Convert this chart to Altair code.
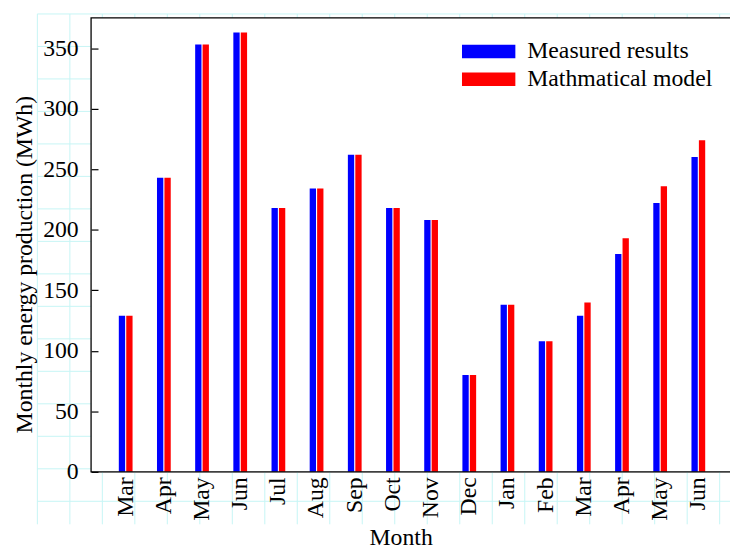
import altair as alt
import pandas as pd

months = ["Mar", "Apr", "May", "Jun", "Jul", "Aug", "Sep", "Oct",
          "Nov", "Dec", "Jan", "Feb", "Mar", "Apr", "May", "Jun"]
measured = [129, 243, 353, 363, 218, 234, 262, 218, 208, 80, 138, 108, 129, 180, 222, 260]
model = [129, 243, 353, 363, 218, 234, 262, 218, 208, 80, 138, 108, 140, 193, 236, 274]
series_names = ["Measured results", "Mathmatical model"]
series_colors = ["#0000ff", "#ff0000"]
y_ticks = [0, 50, 100, 150, 200, 250, 300, 350]

W, H = 646, 459
FONT = "Liberation Serif"
FS = 24

rows = []
for i, m in enumerate(months):
    rows.append({"idx": i, "month": m, "series": series_names[0], "value": measured[i]})
    rows.append({"idx": i, "month": m, "series": series_names[1], "value": model[i]})
df = pd.DataFrame(rows)

label_expr = "[" + ",".join("'" + m + "'" for m in months) + "][datum.value]"

# faint cyan background paper grid (decorative, visible only outside the plot area)
grid_step = 32.85
vx = pd.DataFrame({"px": [-54.3 + grid_step * k for k in range(22)]})
hy = pd.DataFrame({"py": [-4 + grid_step * k for k in range(16)]})
GRID_C = "#c6f5f5"

grid_v = alt.Chart(vx).mark_rule(color=GRID_C, strokeWidth=1).encode(
    x=alt.X("px:Q", scale=None, axis=None),
    y=alt.value(-4), y2=alt.value(512),
)
grid_h = alt.Chart(hy).mark_rule(color=GRID_C, strokeWidth=1).encode(
    y=alt.Y("py:Q", scale=None, axis=None),
    x=alt.value(-54.3), x2=alt.value(W + 10),
)

one = pd.DataFrame({"a": [0]})
white_bg = alt.Chart(one).mark_rect(color="white").encode(
    x=alt.value(0), x2=alt.value(W + 10), y=alt.value(0), y2=alt.value(H),
)
frame = alt.Chart(one).mark_rect(filled=False, stroke="black", strokeWidth=1.3).encode(
    x=alt.value(0), x2=alt.value(W + 10), y=alt.value(0), y2=alt.value(H),
)

bars = alt.Chart(df).mark_bar().encode(
    x=alt.X("idx:O",
            scale=alt.Scale(paddingInner=0.64, paddingOuter=0.688, align=0.528),
            axis=alt.Axis(labelExpr=label_expr, labelAngle=270, labelFont=FONT,
                          labelFontSize=FS, labelColor="black", labelPadding=5,
                          ticks=False, domain=False, grid=False, zindex=1,
                          title="Month", titleFont=FONT, titleFontSize=FS,
                          titleFontWeight="normal", titleColor="black",
                          titlePadding=5, titleX=313)),
    xOffset=alt.XOffset("series:N", sort=series_names,
                        scale=alt.Scale(paddingInner=0.15)),
    y=alt.Y("value:Q", scale=alt.Scale(domain=[0, 375], nice=False),
            axis=alt.Axis(values=y_ticks, offset=-7, tickSize=7, tickColor="black",
                          tickWidth=1.2, domain=False, grid=False, zindex=1,
                          labelFont=FONT, labelFontSize=FS, labelColor="black",
                          labelPadding=13,
                          title="Monthly energy production (MWh)", titleFont=FONT,
                          titleFontSize=FS, titleFontWeight="normal",
                          titleColor="black", titlePadding=6, titleY=249)),
    color=alt.Color("series:N", sort=series_names,
                    scale=alt.Scale(domain=series_names, range=series_colors),
                    legend=alt.Legend(orient="none", legendX=390, legendY=22,
                                      title=None, zindex=1,
                                      symbolType="M-4,-1L4,-1L4,1L-4,1Z",
                                      symbolSize=182, symbolStrokeWidth=0,
                                      labelFont=FONT, labelFontSize=FS,
                                      labelColor="black", labelOffset=27,
                                      labelLimit=400,
                                      rowPadding=4, padding=0)),
)

chart = alt.layer(grid_v, grid_h, white_bg, bars, frame).resolve_scale(
    x="independent", y="independent"
).properties(
    width=W, height=H,
    autosize=alt.AutoSizeParams(type="none"),
    padding={"left": 84, "top": 7, "right": 0, "bottom": 78},
).configure_view(stroke=None).configure(background="white")

chart.save("out.html", embed_options={"renderer": "svg", "actions": False})
